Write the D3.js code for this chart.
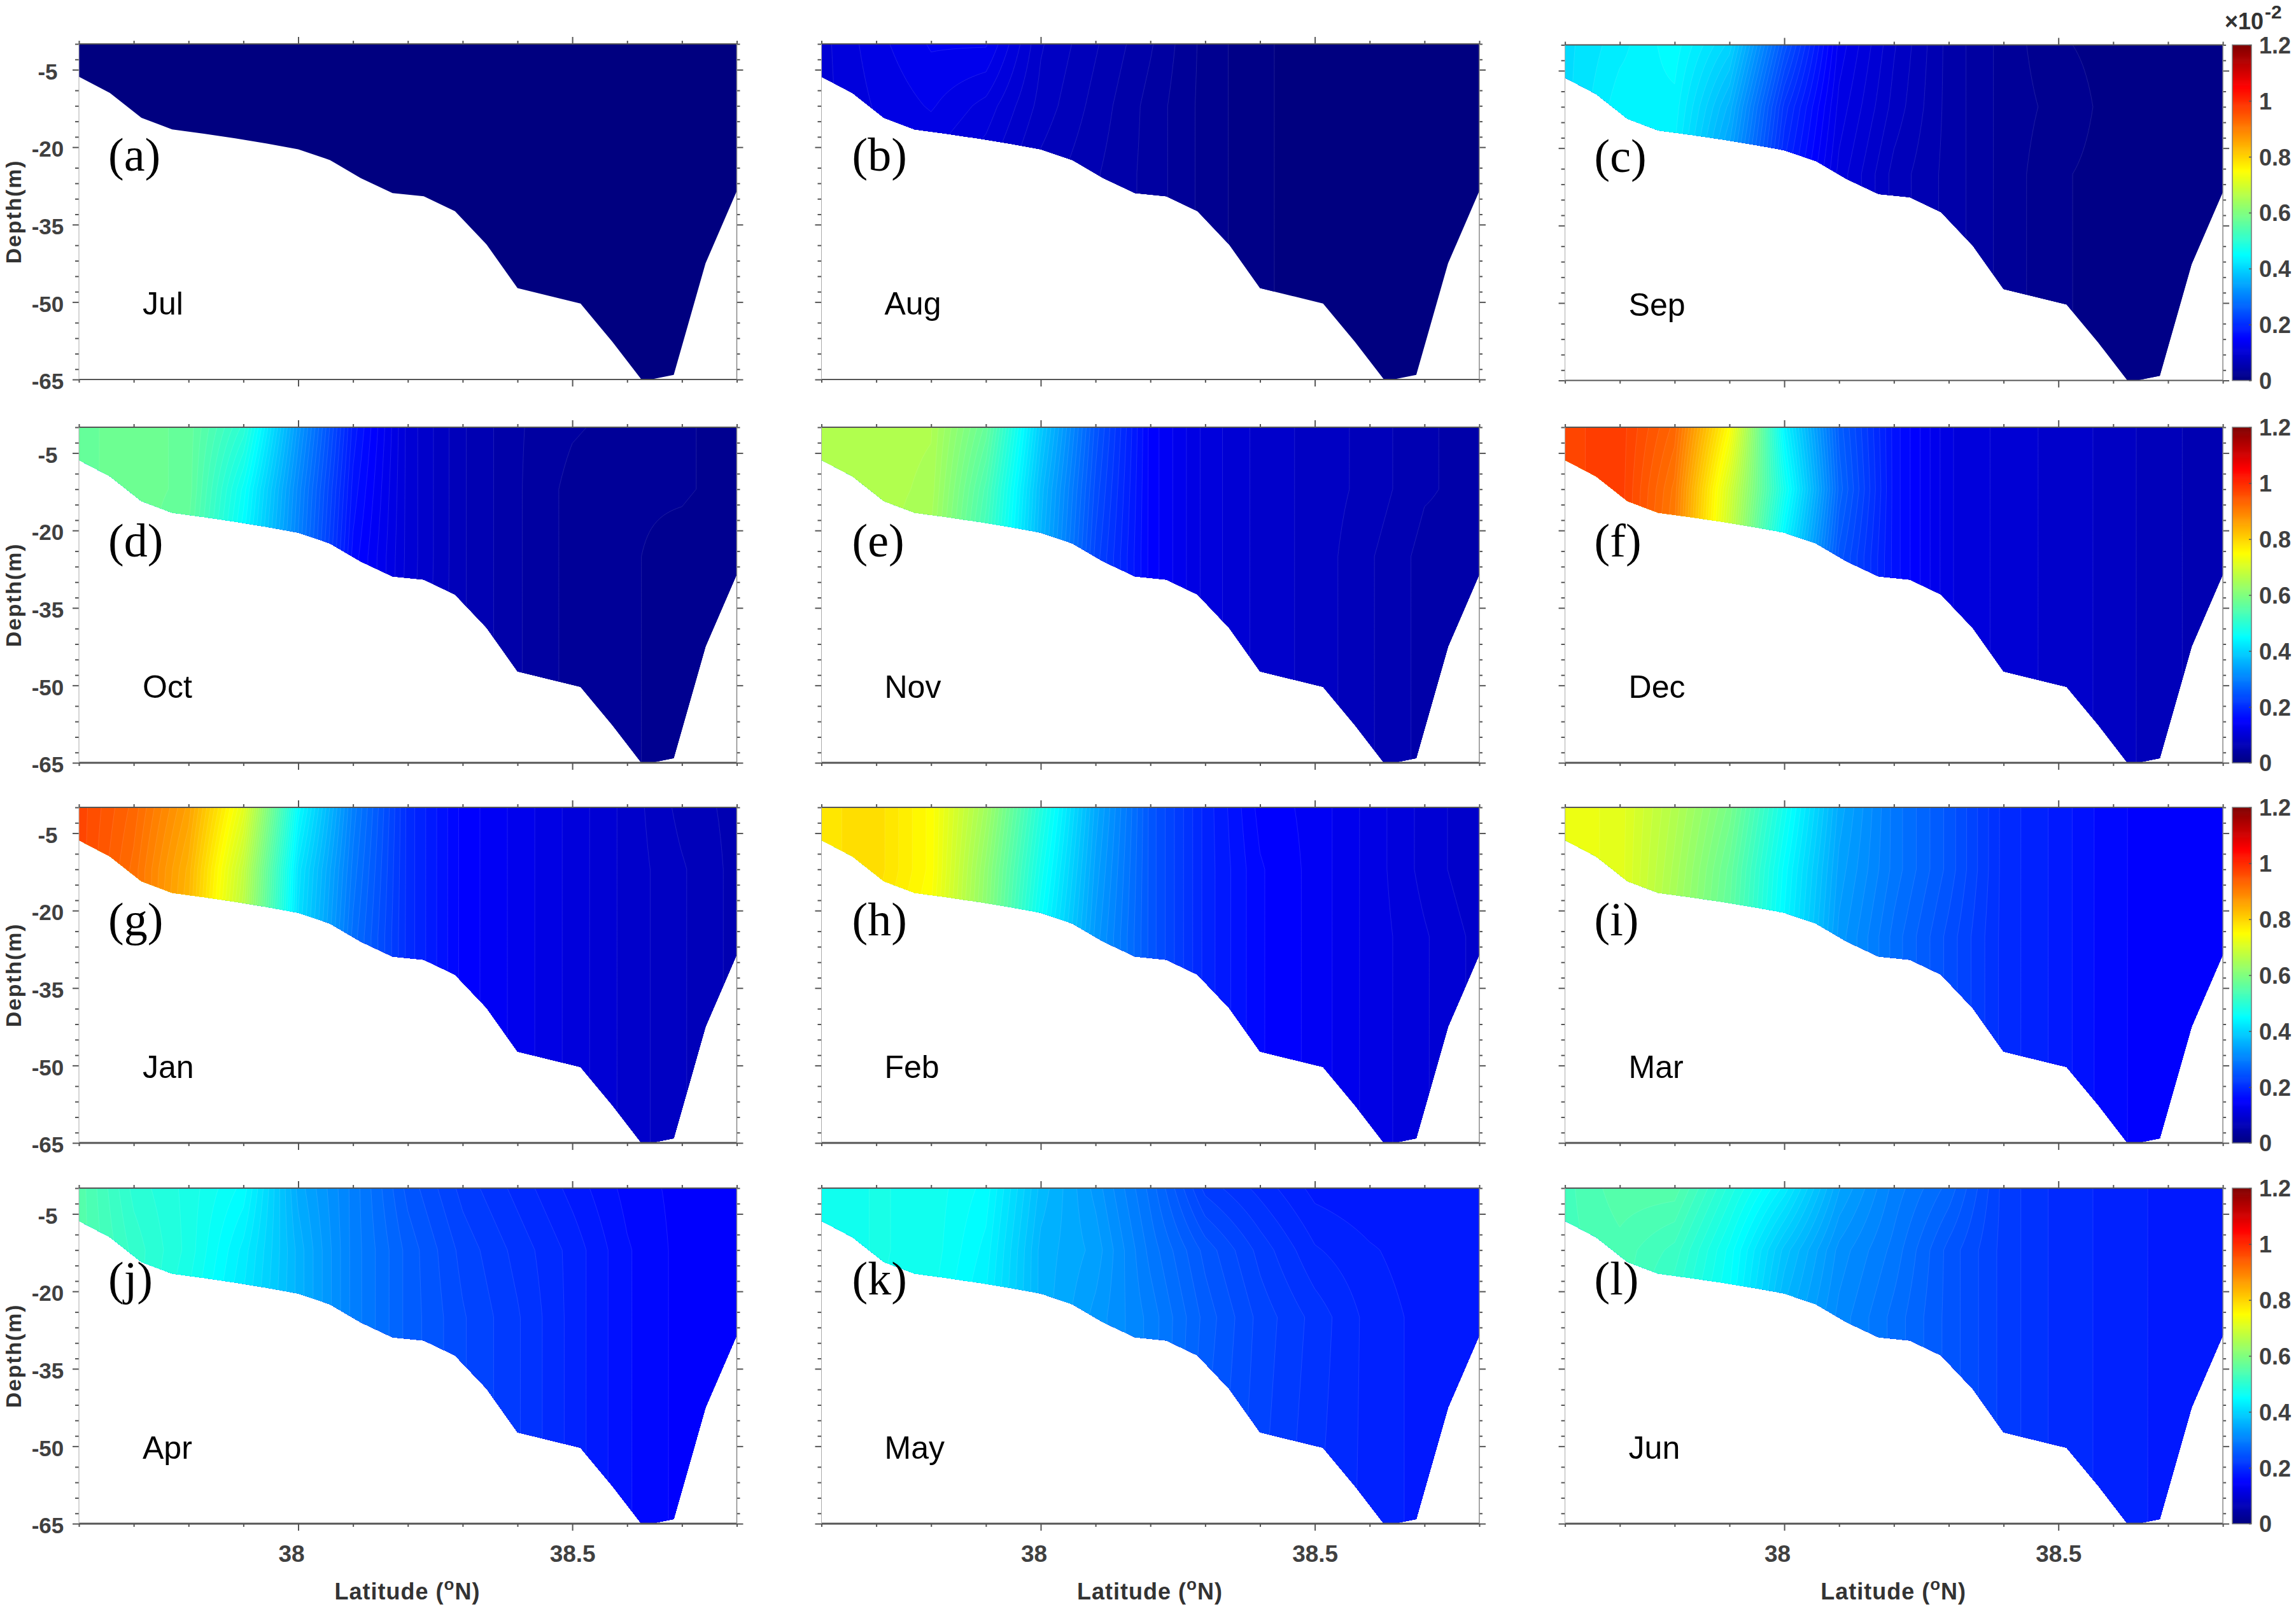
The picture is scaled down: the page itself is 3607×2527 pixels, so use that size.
<!DOCTYPE html>
<html><head><meta charset="utf-8">
<style>html,body{margin:0;padding:0;background:#fff}svg{display:block}</style>
<script src="https://cdn.jsdelivr.net/npm/d3@7"></script>
</head><body><div id="chart"></div>
<script>
// ---- data ----
const monthNames = ["Jul","Aug","Sep","Oct","Nov","Dec","Jan","Feb","Mar","Apr","May","Jun"];
const panelTags  = ["(a)","(b)","(c)","(d)","(e)","(f)","(g)","(h)","(i)","(j)","(k)","(l)"];
const latTicks = [38, 38.5];
const latMinor = [37.6,37.7,37.8,37.9,38.1,38.2,38.3,38.4,38.6,38.7,38.8];
const depthTicks = [-5,-20,-35,-50,-65];
const depthMinor = [0,-3,-9,-12,-15,-18,-24,-27,-30,-33,-39,-42,-45,-48,-54,-57,-60,-63];
const cbTicks = [0,0.2,0.4,0.6,0.8,1,1.2];
const bedLat   = [37.6,37.6565,37.714,37.77,37.828,37.885,37.943,38,38.058,38.114,38.172,38.229,38.286,38.344,38.4,38.458,38.515,38.573,38.626,38.643,38.685,38.743,38.8];
const bedDepth = [-6.35,-9.5,-14.3,-16.55,-17.4,-18.3,-19.3,-20.4,-22.5,-26,-28.9,-29.5,-32.4,-38.9,-47.3,-48.8,-50.3,-57.7,-65,-65,-64.1,-42.5,-28.5];
const latNodes   = [37.6,37.7,37.8,37.9,38,38.1,38.2,38.3,38.4,38.5,38.6,38.7,38.8];
const depthNodes = [0,-12,-25,-65];
const jul = [[0,0,0,0,0,0,0,0,0,0,0,0,0],[0,0,0,0,0,0,0,0,0,0,0,0,0],[0,0,0,0,0,0,0,0,0,0,0,0,0],[0,0,0,0,0,0,0,0,0,0,0,0,0]];
const aug = [[.10,.12,.135,.135,.085,.065,.045,.02,.005,0,0,0,0],
             [.10,.115,.125,.11,.08,.06,.04,.02,.005,0,0,0,0],
             [.10,.11,.11,.095,.07,.055,.04,.02,.005,0,0,0,0],
             [.10,.11,.11,.09,.07,.055,.04,.02,.005,0,0,0,0]];
const sep = [[.41,.43,.45,.40,.25,.13,.085,.05,.03,.015,.01,.01,.01],
             [.41,.44,.44,.36,.21,.12,.08,.05,.03,.02,.01,.01,.01],
             [.41,.44,.43,.33,.19,.11,.07,.05,.03,.015,.01,.01,.01],
             [.41,.44,.43,.33,.19,.11,.07,.05,.03,.015,.01,.01,.01]];
const oct = [[.57,.58,.57,.50,.33,.18,.10,.065,.045,.035,.03,.025,.02],
             [.57,.58,.57,.46,.31,.17,.10,.065,.045,.03,.025,.025,.02],
             [.57,.58,.56,.44,.30,.16,.10,.065,.045,.03,.025,.02,.015],
             [.57,.58,.56,.44,.30,.16,.095,.065,.045,.03,.025,.02,.015]];
const nov = [[.655,.66,.655,.57,.39,.25,.15,.11,.09,.08,.07,.055,.05],
             [.655,.66,.65,.54,.37,.24,.15,.11,.09,.08,.07,.055,.05],
             [.655,.66,.64,.52,.36,.23,.15,.11,.09,.08,.065,.05,.05],
             [.655,.66,.64,.52,.36,.23,.15,.11,.09,.08,.065,.05,.05]];
const dec = [[.97,.98,.93,.75,.44,.26,.17,.115,.10,.09,.08,.065,.06],
             [.97,.98,.91,.70,.47,.27,.17,.115,.10,.09,.08,.065,.06],
             [.97,.98,.90,.68,.43,.25,.17,.115,.10,.09,.08,.065,.06],
             [.97,.98,.90,.68,.43,.25,.17,.115,.10,.09,.08,.065,.06]];
const jan = [[.97,.93,.86,.72,.45,.30,.20,.15,.13,.11,.09,.07,.06],
             [.97,.92,.84,.68,.42,.29,.20,.15,.13,.11,.09,.075,.06],
             [.97,.92,.83,.66,.41,.28,.20,.15,.13,.11,.09,.075,.06],
             [.97,.92,.83,.66,.41,.28,.20,.15,.13,.11,.09,.075,.06]];
const feb = [[.78,.79,.75,.64,.49,.35,.25,.19,.15,.14,.12,.10,.085],
             [.78,.79,.75,.62,.47,.34,.25,.19,.155,.14,.12,.10,.085],
             [.78,.78,.74,.61,.45,.33,.25,.19,.155,.14,.12,.105,.09],
             [.78,.78,.74,.61,.45,.33,.25,.19,.155,.14,.12,.105,.09]];
const mar = [[.73,.72,.66,.59,.47,.35,.29,.25,.20,.18,.155,.15,.145],
             [.73,.72,.65,.57,.45,.34,.29,.25,.20,.18,.155,.15,.145],
             [.73,.72,.64,.56,.44,.33,.28,.24,.20,.18,.155,.15,.145],
             [.73,.72,.64,.56,.44,.33,.28,.24,.20,.18,.155,.15,.145]];
const apr = [[.55,.50,.48,.45,.35,.30,.25,.22,.20,.18,.16,.15,.145],
             [.55,.51,.48,.43,.36,.30,.26,.23,.21,.19,.165,.15,.145],
             [.55,.51,.47,.42,.36,.30,.26,.235,.215,.19,.165,.15,.145],
             [.55,.51,.47,.42,.36,.30,.26,.235,.215,.19,.165,.15,.145]];
const may = [[.465,.475,.47,.45,.37,.33,.28,.22,.20,.18,.175,.175,.175],
             [.465,.475,.47,.44,.36,.34,.29,.25,.22,.195,.185,.178,.175],
             [.465,.475,.465,.43,.36,.33,.30,.26,.23,.21,.19,.18,.18],
             [.465,.475,.465,.43,.36,.33,.30,.25,.225,.205,.19,.18,.18]];
const jun = [[.53,.55,.55,.49,.43,.345,.30,.27,.22,.20,.19,.18,.175],
             [.53,.54,.52,.46,.38,.32,.29,.25,.22,.20,.19,.18,.175],
             [.53,.54,.50,.45,.36,.31,.28,.25,.22,.20,.19,.18,.175],
             [.53,.54,.50,.45,.36,.31,.28,.25,.22,.20,.19,.18,.175]];
const fields = [jul,aug,sep,oct,nov,dec,jan,feb,mar,apr,may,jun];

// ---- layout ----
const W = 3607, H = 2527;
const colLeft = [124, 1290.5, 2458.6], panelW = 1033.5;
const rowTop = [69, 671, 1268, 1866], panelH = 527;
const sans = "'Liberation Sans',Arial,sans-serif", serif = "'Liberation Serif','Times New Roman',serif";
const tagDx = [46, 48, 46], monthDx = [100, 99, 100];
const tagBase = [199, 203, 201, 167];
const levels = d3.range(-0.0063, 1.2, 0.01);
const gridStep = 0.005;

const jet = d3.scaleLinear()
  .domain([0,.125,.375,.625,.875,1].map(t => t*1.2))
  .range(["#000080","#0000ff","#00ffff","#ffff00","#ff0000","#800000"])
  .clamp(true);

const svg = d3.select("#chart").append("svg").attr("width",W).attr("height",H).attr("viewBox",`0 0 ${W} ${H}`);
svg.append("rect").attr("width",W).attr("height",H).attr("fill","#fff");
const axisColor = "#555";

function styleAxis(g){
  g.selectAll("line").attr("stroke",axisColor).attr("stroke-width",2);
  g.selectAll("path").attr("stroke","none").attr("fill","none");
}

fields.forEach((field,i)=>{
  const c = i%3, r = Math.floor(i/3);
  const left = colLeft[c];
  const top = rowTop[r] + ((r===0&&c===2)?1.5:0);
  const x = d3.scaleLinear().domain([37.6,38.8]).range([left,left+panelW]);
  const y = d3.scaleLinear().domain([0,-65]).range([top,top+panelH]);
  const g = svg.append("g");

  // section outline clip
  const outline = [[37.6,0],[38.8,0]].concat(bedLat.map((la,k)=>[la,bedDepth[k]]).reverse());
  const clipId = "clip"+i;
  g.append("clipPath").attr("id",clipId).append("path")
    .attr("d", d3.line().x(d=>x(d[0])).y(d=>y(d[1])).curve(d3.curveLinearClosed)(outline));

  // value surface sampled for the contour filler
  const rowScales = field.map(row => d3.scaleLinear().domain(latNodes).range(row));
  const nx = Math.round(1.2/gridStep)+1, ny = 66;
  const values = new Float64Array(nx*ny);
  for(let j=0;j<ny;j++){
    for(let ii=0;ii<nx;ii++){
      const la = 37.6+ii*gridStep;
      const col = d3.scaleLinear().domain(depthNodes).range(rowScales.map(s=>s(la)));
      values[j*nx+ii] = col(-j);
    }
  }
  const contours = d3.contours().size([nx,ny]).smooth(true).thresholds(levels)(values);
  const proj = d3.geoTransform({point(px,py){ this.stream.point(x(37.6+(px-.5)*gridStep), y(-(py-.5))); }});
  const pathGen = d3.geoPath(proj);
  const fieldG = g.append("g").attr("clip-path",`url(#${clipId})`);
  fieldG.selectAll("path").data(contours.filter(d=>d.coordinates.length)).join("path")
    .attr("d",d=>pathGen(d))
    .attr("fill",d=>jet(d.value+0.005))
    .attr("stroke",(d,k)=>k===0?"none":"rgba(255,255,255,0.13)")
    .attr("stroke-width",0.9);

  // axes
  const noLabel = ()=>"";
  const addX = (gen,yPos,size,vals,label)=>{
    const a = g.append("g").attr("transform",`translate(0,${yPos})`)
      .call(gen(x).tickValues(vals).tickSize(size).tickFormat(label||noLabel));
    styleAxis(a); return a;
  };
  const addY = (gen,xPos,size,vals,label)=>{
    const a = g.append("g").attr("transform",`translate(${xPos},0)`)
      .call(gen(y).tickValues(vals).tickSize(size).tickFormat(label||noLabel));
    styleAxis(a); return a;
  };
  addX(d3.axisTop,top,5,latMinor); addX(d3.axisTop,top,11,latTicks);
  addX(d3.axisBottom,top+panelH,5,latMinor);
  const bx = addX(d3.axisBottom,top+panelH,11,latTicks, r===3 ? (d=>String(d)) : null);
  addY(d3.axisLeft,left,6,depthMinor);
  const ly = addY(d3.axisLeft,left,10,depthTicks, c===0 ? (d=>String(d)) : null);
  addY(d3.axisRight,left+panelW,5,depthMinor); addY(d3.axisRight,left+panelW,10,depthTicks);
  // frame
  g.append("line").attr("x1",left).attr("x2",left+panelW).attr("y1",top).attr("y2",top).attr("stroke",axisColor).attr("stroke-width",2);
  g.append("line").attr("x1",left).attr("x2",left+panelW).attr("y1",top+panelH).attr("y2",top+panelH).attr("stroke",axisColor).attr("stroke-width",r===0?2:3);
  g.append("line").attr("x1",left+panelW).attr("x2",left+panelW).attr("y1",top).attr("y2",top+panelH).attr("stroke","#888").attr("stroke-width",1.5);
  g.append("line").attr("x1",left).attr("x2",left).attr("y1",top).attr("y2",top+panelH).attr("stroke","#aaa").attr("stroke-width",1);

  if(r===3){
    bx.selectAll("text").attr("font-family",sans).attr("font-size",37).attr("font-weight",700).attr("fill","#404040")
      .attr("y",34).attr("dx",d=>d===38?-11:0);
    g.append("text").attr("x",left+516).attr("y",top+panelH+119).attr("text-anchor","middle")
      .attr("font-family",sans).attr("font-size",36).attr("font-weight",700).attr("fill","#333").attr("letter-spacing",1)
      .call(t=>{ t.append("tspan").text("Latitude (");
                 t.append("tspan").attr("font-size",26).attr("dy",-15).text("o");
                 t.append("tspan").attr("dy",15).text("N)"); });
  }
  if(c===0){
    ly.selectAll("text").attr("font-family",sans).attr("font-size",35).attr("font-weight",700).attr("fill","#404040")
      .attr("text-anchor","middle").attr("x",75-left).attr("dy","0.42em");
    g.append("text").attr("transform",`translate(33,${top+panelH/2}) rotate(-90)`).attr("text-anchor","middle")
      .attr("font-family",sans).attr("font-size",34).attr("font-weight",700).attr("fill","#333").attr("letter-spacing",1.8).text("Depth(m)");
  }
  // annotations
  g.append("text").attr("x",left+tagDx[c]).attr("y",top+tagBase[r]).attr("font-family",serif).attr("font-size",74).attr("fill","#000").text(panelTags[i]);
  g.append("text").attr("x",left+monthDx[c]).attr("y",top+425).attr("font-family",sans).attr("font-size",50).attr("fill","#000").text(monthNames[i]);

  // colour bar
  if(c===2){
    const bx0 = 3507, bw = 30;
    const cy = d3.scaleLinear().domain([0,1.2]).range([top+panelH,top]);
    const steps = d3.range(0,1.2,1.2/256);
    g.append("g").selectAll("rect").data(steps).join("rect")
      .attr("x",bx0).attr("width",bw)
      .attr("y",d=>cy(d+1.2/256)).attr("height",d=>cy(d)-cy(d+1.2/256)+0.6)
      .attr("fill",d=>jet(d+0.6/256));
    g.append("rect").attr("x",bx0).attr("y",top).attr("width",bw).attr("height",panelH).attr("fill","none").attr("stroke","#777").attr("stroke-width",1.5);
    const ca = g.append("g").attr("transform",`translate(${bx0+bw},0)`)
      .call(d3.axisLeft(cy).tickValues(cbTicks).tickSize(4).tickFormat(d=>String(d)));
    ca.select("path").remove();
    ca.selectAll("line").attr("stroke","#555").attr("stroke-width",1.5);
    ca.selectAll("text").attr("font-family",sans).attr("font-size",36).attr("font-weight",700).attr("fill","#404040")
      .attr("text-anchor","start").attr("x",12).attr("dy","0.36em");
    if(r===0){
      g.append("text").attr("x",3495).attr("y",46).attr("font-family",sans).attr("font-size",36).attr("font-weight",700).attr("fill","#333")
        .call(t=>{ t.append("tspan").text("×10");
                   t.append("tspan").attr("font-size",30).attr("dy",-17).attr("dx",2).text("-2"); });
    }
  }
});
</script></body></html>
